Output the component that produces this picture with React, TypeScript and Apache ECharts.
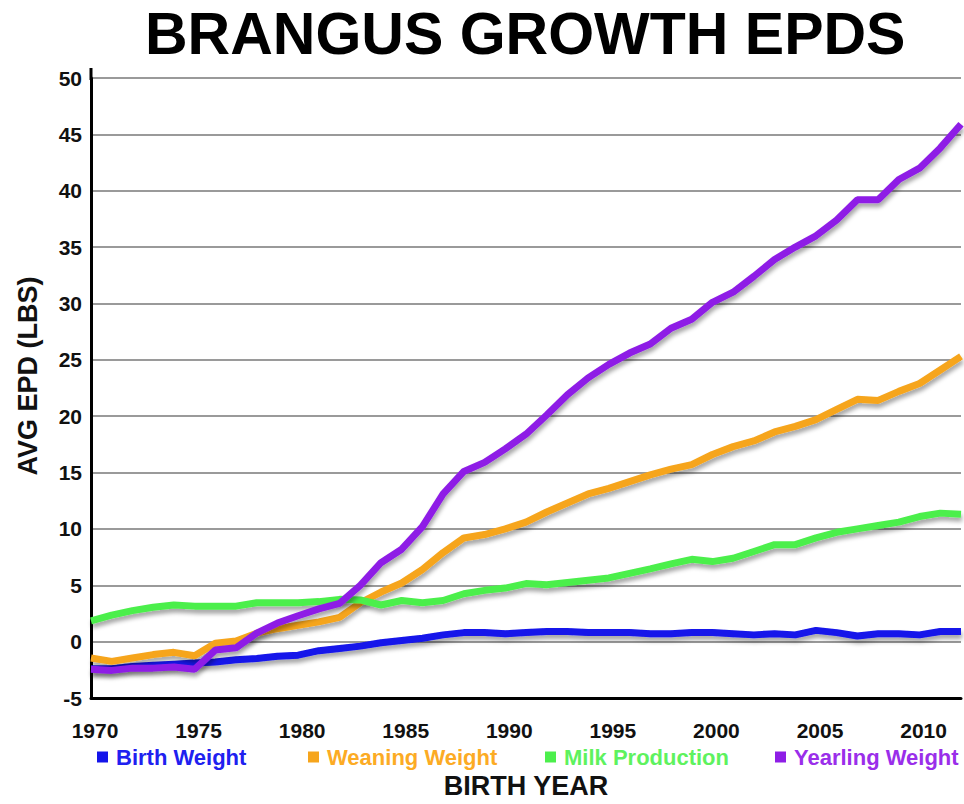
import React, { useEffect, useRef } from "react";
import * as echarts from "echarts";

const years = [
  1970, 1971, 1972, 1973, 1974, 1975, 1976, 1977, 1978, 1979,
  1980, 1981, 1982, 1983, 1984, 1985, 1986, 1987, 1988, 1989,
  1990, 1991, 1992, 1993, 1994, 1995, 1996, 1997, 1998, 1999,
  2000, 2001, 2002, 2003, 2004, 2005, 2006, 2007, 2008, 2009,
  2010, 2011, 2012,
];

const birthWeight = [
  -2.4, -2.4, -2.2, -2.1, -2.0, -1.9, -1.8, -1.6, -1.5, -1.3,
  -1.2, -0.8, -0.6, -0.4, -0.1, 0.1, 0.3, 0.6, 0.8, 0.8,
  0.7, 0.8, 0.9, 0.9, 0.8, 0.8, 0.8, 0.7, 0.7, 0.8,
  0.8, 0.7, 0.6, 0.7, 0.6, 1.0, 0.8, 0.5, 0.7, 0.7,
  0.6, 0.9, 0.9,
];

const weaningWeight = [
  -1.45, -1.75, -1.45, -1.15, -0.95, -1.25, -0.15, 0.05, 0.75, 1.15,
  1.45, 1.75, 2.15, 3.45, 4.4, 5.2, 6.4, 7.9, 9.2, 9.5,
  10.0, 10.6, 11.5, 12.3, 13.1, 13.6, 14.2, 14.8, 15.3, 15.7,
  16.6, 17.3, 17.8, 18.6, 19.1, 19.7, 20.6, 21.5, 21.4, 22.2,
  22.9, 24.1, 25.3,
];

const milkProduction = [
  1.85, 2.35, 2.75, 3.05, 3.25, 3.15, 3.15, 3.15, 3.45, 3.45,
  3.45, 3.55, 3.75, 3.7, 3.25, 3.65, 3.45, 3.65, 4.25, 4.55,
  4.75, 5.15, 5.05, 5.25, 5.45, 5.65, 6.05, 6.45, 6.9, 7.3,
  7.1, 7.4, 8.0, 8.6, 8.6, 9.2, 9.7, 10.0, 10.3, 10.6,
  11.1, 11.4, 11.3,
];

const yearlingWeight = [
  -2.45, -2.55, -2.35, -2.35, -2.25, -2.45, -0.75, -0.55, 0.75, 1.65,
  2.3, 2.9, 3.4, 5.0, 7.0, 8.2, 10.2, 13.1, 15.1, 15.9,
  17.1, 18.4, 20.1, 21.9, 23.4, 24.6, 25.6, 26.4, 27.8, 28.6,
  30.1, 31.0, 32.4, 33.9, 35.0, 36.0, 37.4, 39.2, 39.2, 41.0,
  42.0, 43.8, 45.9,
];

const seriesNames = ["Birth Weight", "Weaning Weight", "Milk Production", "Yearling Weight"];
const seriesColors = ["#1414ea", "#f6a51c", "#4cef4c", "#8e1ee6"];
const legendTextColors = ["#2020f0", "#fcab24", "#5ef25e", "#9a2eea"];
const legendLefts = [92, 303, 540, 770];

const FONT = "'Liberation Sans', Arial, Helvetica, sans-serif";

export default function App() {
  const ref = useRef<HTMLDivElement>(null);

  useEffect(() => {
    document.body.style.margin = "0";
    if (!ref.current) return;
    const chart = echarts.init(ref.current, undefined, { renderer: "svg" });
    const allValues = [birthWeight, weaningWeight, milkProduction, yearlingWeight];

    const series = seriesNames.map((name, i) => ({
      name,
      type: "line",
      data: years.map((y, k) => [y, allValues[i][k]]),
      showSymbol: false,
      symbol: "none",
      color: seriesColors[i],
      lineStyle: {
        width: 7,
        color: seriesColors[i],
        shadowColor: "rgba(0,0,0,0.35)",
        shadowBlur: 4,
        shadowOffsetX: 1,
        shadowOffsetY: 4,
      },
      z: 2 + i,
    }));

    const legends = seriesNames.map((name, i) => ({
      data: [name],
      left: legendLefts[i],
      top: 741,
      icon: "rect",
      itemWidth: 11,
      itemHeight: 11,
      textStyle: {
        color: legendTextColors[i],
        fontFamily: FONT,
        fontWeight: "bold",
        fontSize: 22,
        padding: [0, 0, 0, 3],
      },
      selectedMode: false,
    }));

    chart.setOption({
      animation: false,
      backgroundColor: "#ffffff",
      title: {
        text: "BRANGUS GROWTH EPDS",
        left: 145,
        top: 4,
        padding: 0,
        textStyle: {
          fontFamily: FONT,
          fontWeight: "bold",
          fontSize: 59,
          color: "#000000",
        },
      },
      legend: legends,
      grid: { left: 91, right: -1, top: 78, bottom: 97, containLabel: false },
      xAxis: {
        type: "value",
        min: 1970,
        max: 2012,
        interval: 5,
        name: "BIRTH YEAR",
        nameLocation: "middle",
        nameGap: 74,
        nameTextStyle: {
          fontFamily: FONT,
          fontWeight: "bold",
          fontSize: 27,
          color: "#111",
        },
        axisLine: { show: true, onZero: false, lineStyle: { color: "#000", width: 3 } },
        axisTick: { show: false },
        splitLine: { show: false },
        axisLabel: {
          margin: 22,
          fontFamily: FONT,
          fontWeight: "bold",
          fontSize: 21,
          color: "#111",
          padding: [0, 0, 0, 8],
          formatter: (v: number) => (v % 5 === 0 && v <= 2010 ? String(v) : ""),
        },
      },
      yAxis: {
        type: "value",
        min: -5,
        max: 50,
        interval: 5,
        axisLine: { show: true, lineStyle: { color: "#000", width: 3 } },
        axisTick: { show: false },
        splitLine: { show: true, lineStyle: { color: "#9a9a9a", width: 2 } },
        axisLabel: {
          margin: 9,
          fontFamily: FONT,
          fontWeight: "bold",
          fontSize: 21,
          color: "#111",
          formatter: (v: number) => String(v),
        },
      },
      graphic: [
        {
          type: "text",
          x: 28,
          y: 376,
          rotation: Math.PI / 2,
          style: {
            text: "AVG EPD (LBS)",
            textAlign: "center",
            textVerticalAlign: "middle",
            font: `bold 27px ${FONT}`,
            fill: "#111",
          },
        },
        {
          type: "line",
          shape: { x1: 91, y1: 68, x2: 91, y2: 80 },
          style: { stroke: "#000", lineWidth: 3 },
        },
      ],
      series,
    });

    return () => chart.dispose();
  }, []);

  return <div ref={ref} style={{ width: 964, height: 804 }} />;
}
